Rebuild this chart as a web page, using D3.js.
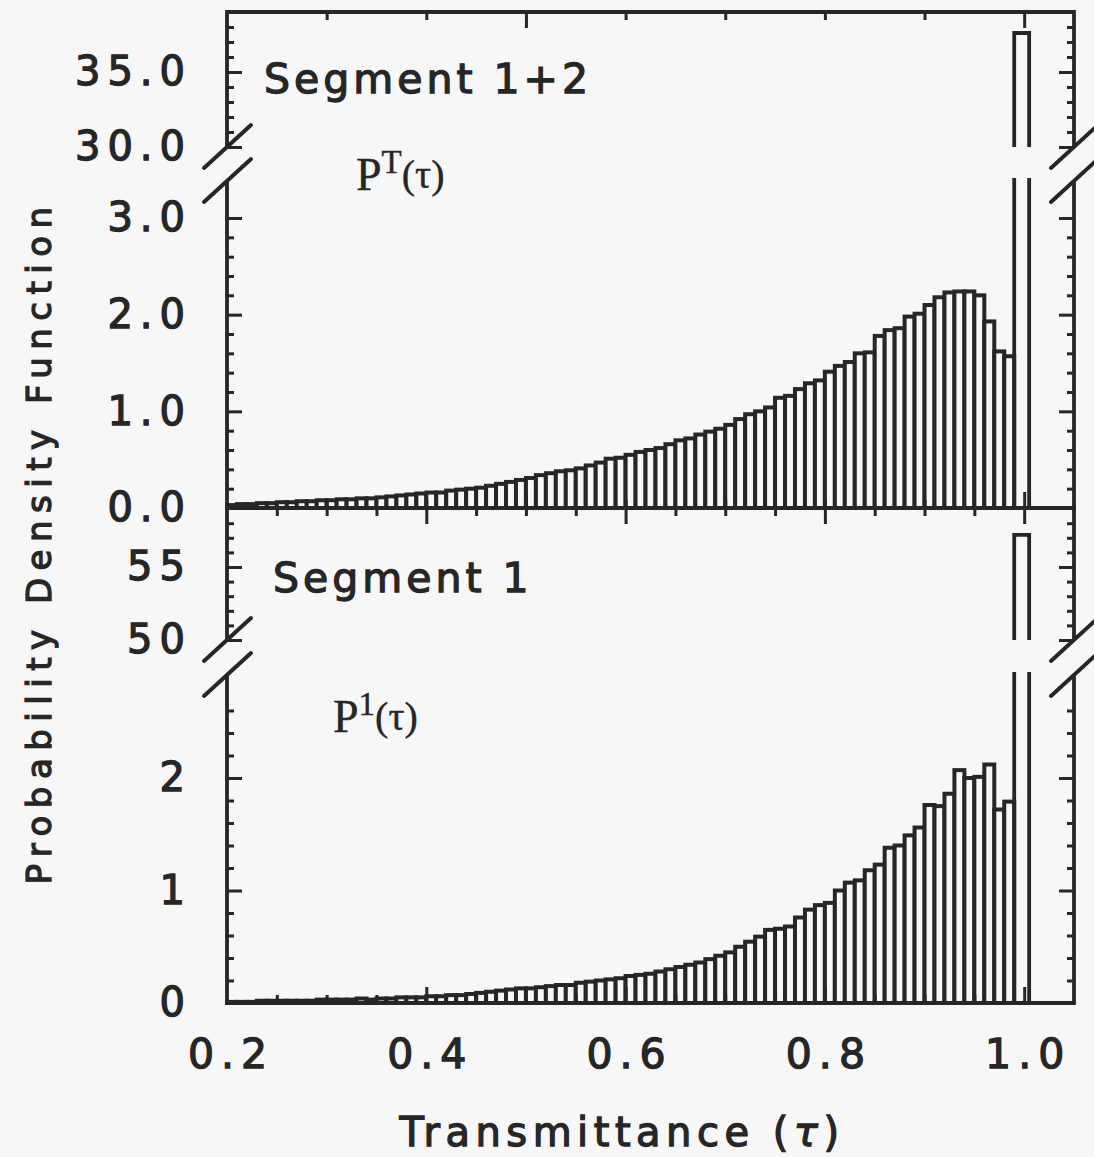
<!DOCTYPE html>
<html>
<head>
<meta charset="utf-8">
<script src="https://cdn.jsdelivr.net/npm/d3@7"></script>
<style>
body { margin: 0; background: #f7f7f7; }
svg text { font-family: "DejaVu Sans", sans-serif; font-weight: normal; fill: #262626; stroke: #262626; stroke-width: 1.3px; }
svg text.serif, svg tspan.serif { font-family: "Liberation Serif", "DejaVu Serif", serif; stroke-width: 0.4px; }
</style>
</head>
<body>
<svg width="1094" height="1157"></svg>
<script>
// bin lower edges (tau), width 0.01
var binStart = [0.20, 0.21, 0.22, 0.23, 0.24, 0.25, 0.26, 0.27, 0.28, 0.29,
                0.30, 0.31, 0.32, 0.33, 0.34, 0.35, 0.36, 0.37, 0.38, 0.39,
                0.40, 0.41, 0.42, 0.43, 0.44, 0.45, 0.46, 0.47, 0.48, 0.49,
                0.50, 0.51, 0.52, 0.53, 0.54, 0.55, 0.56, 0.57, 0.58, 0.59,
                0.60, 0.61, 0.62, 0.63, 0.64, 0.65, 0.66, 0.67, 0.68, 0.69,
                0.70, 0.71, 0.72, 0.73, 0.74, 0.75, 0.76, 0.77, 0.78, 0.79,
                0.80, 0.81, 0.82, 0.83, 0.84, 0.85, 0.86, 0.87, 0.88, 0.89,
                0.90, 0.91, 0.92, 0.93, 0.94, 0.95, 0.96, 0.97, 0.98];
var binWidth = 0.01;

// Segment 1+2, PT(tau)
var pdfTotal = [0.03, 0.04, 0.04, 0.05, 0.05, 0.06, 0.06, 0.07, 0.07, 0.08,
                0.08, 0.09, 0.09, 0.10, 0.10, 0.11, 0.12, 0.13, 0.14, 0.15,
                0.16, 0.16, 0.18, 0.19, 0.20, 0.21, 0.23, 0.25, 0.27, 0.29,
                0.31, 0.34, 0.36, 0.38, 0.39, 0.41, 0.44, 0.47, 0.51, 0.52,
                0.55, 0.58, 0.60, 0.62, 0.66, 0.70, 0.72, 0.76, 0.79, 0.82,
                0.86, 0.92, 0.97, 1.00, 1.04, 1.14, 1.16, 1.23, 1.29, 1.32,
                1.41, 1.47, 1.51, 1.60, 1.61, 1.78, 1.84, 1.86, 1.98, 2.01,
                2.10, 2.18, 2.23, 2.24, 2.24, 2.20, 1.93, 1.62, 1.57];

// Segment 1, P1(tau)
var pdfSeg1 = [0.01, 0.01, 0.01, 0.02, 0.02, 0.02, 0.02, 0.02, 0.02, 0.03,
               0.03, 0.03, 0.03, 0.04, 0.03, 0.04, 0.04, 0.05, 0.05, 0.05,
               0.06, 0.06, 0.07, 0.07, 0.08, 0.09, 0.10, 0.11, 0.12, 0.13,
               0.13, 0.14, 0.15, 0.16, 0.16, 0.18, 0.19, 0.20, 0.21, 0.22,
               0.24, 0.25, 0.26, 0.28, 0.30, 0.32, 0.34, 0.36, 0.39, 0.42,
               0.45, 0.50, 0.545, 0.59, 0.65, 0.66, 0.68, 0.76, 0.83, 0.87,
               0.89, 1.00, 1.07, 1.09, 1.18, 1.23, 1.38, 1.40, 1.49, 1.56,
               1.76, 1.75, 1.86, 2.07, 2.00, 2.01, 2.12, 1.72, 1.79];

// the tall bin at tau = 1
var spikeBin = [0.99, 1.005];
var spikeTotal = 37.6;
var spikeSeg1 = 57.2;

// ticks
var xLabels = [0.2, 0.4, 0.6, 0.8, 1.0];
var topXMajor = [0.5, 1.0];
var topXMinor = [0.3, 0.4, 0.6, 0.7, 0.8, 0.9];
var botXMajor = [0.4, 0.6, 0.8, 1.0];
var botXMinor = [0.25, 0.3, 0.35, 0.45, 0.5, 0.55, 0.65, 0.7, 0.75, 0.85, 0.9, 0.95];

var topYMajor = [0, 1, 2, 3];
var topYMinor = [0.2, 0.4, 0.6, 0.8, 1.2, 1.4, 1.6, 1.8, 2.2, 2.4, 2.6, 2.8];
var topBreakMajor = [30, 35];
var topBreakMinor = [31, 32, 33, 34, 36, 37, 38];
var botYMajor = [0, 1, 2];
var botYMinor = [0.2, 0.4, 0.6, 0.8, 1.2, 1.4, 1.6, 1.8, 2.2, 2.4, 2.6];
var botBreakMajor = [50, 55];
var botBreakMinor = [51, 52, 53, 54, 56, 57, 58];

var INK = '#262626', PAPER = '#f7f7f7';
var left = 227, right = 1074;

var svg = d3.select('svg');

var x = d3.scaleLinear().domain([0.2, 1.05]).range([left, right]);

// panel definitions (scale ranges in px)
var panels = [
  { top: 12, base: 508,
    y: d3.scaleLinear().domain([0, 3]).range([508, 218]),
    yb: d3.scaleLinear().domain([30, 35]).range([147, 72]),
    cutHi: 147, cutLo: 181, spikeGapLo: 178,
    values: pdfTotal, spike: spikeTotal,
    major: topYMajor, minor: topYMinor, bMajor: topBreakMajor, bMinor: topBreakMinor,
    fmt: d3.format('.1f'), xMajor: topXMajor, xMinor: topXMinor },
  { top: 508, base: 1003,
    y: d3.scaleLinear().domain([0, 2]).range([1003, 778]),
    yb: d3.scaleLinear().domain([50, 55]).range([640, 567]),
    cutHi: 640, cutLo: 675, spikeGapLo: 672,
    values: pdfSeg1, spike: spikeSeg1,
    major: botYMajor, minor: botYMinor, bMajor: botBreakMajor, bMinor: botBreakMinor,
    fmt: d3.format('d'), xMajor: botXMajor, xMinor: botXMinor }
];

function cleanAxis(g) {
  g.select('.domain').remove();
  g.selectAll('line').attr('stroke', INK).attr('stroke-width', 3);
  g.selectAll('text').style('font-size', '40px').style('letter-spacing', '7px');
}

panels.forEach(function(p) {
  var g = svg.append('g');

  // bars
  g.selectAll('rect.bar')
    .data(p.values)
    .enter()
    .append('rect')
    .attr('class', 'bar')
    .attr('x', function(d, i) { return x(binStart[i]); })
    .attr('width', function(d, i) { return x(binStart[i] + binWidth) - x(binStart[i]); })
    .attr('y', function(d) { return p.y(d); })
    .attr('height', function(d) { return p.y(0) - p.y(d); })
    .attr('fill', PAPER)
    .attr('stroke', INK)
    .attr('stroke-width', 4);

  // spike, broken at the axis break
  var sx0 = x(spikeBin[0]), sx1 = x(spikeBin[1]);
  g.append('path')
    .attr('d', 'M' + sx0 + ',' + p.base + 'V' + p.spikeGapLo + 'M' + sx1 + ',' + p.spikeGapLo + 'V' + p.base)
    .attr('fill', 'none').attr('stroke', INK).attr('stroke-width', 3.8);
  g.append('path')
    .attr('d', 'M' + sx0 + ',' + p.cutHi + 'V' + p.yb(p.spike) + 'H' + sx1 + 'V' + p.cutHi)
    .attr('fill', PAPER).attr('stroke', INK).attr('stroke-width', 3.8);

  // x ticks, inside, on both horizontal edges
  [[d3.axisTop, p.top], [d3.axisBottom, p.base]].forEach(function(a) {
    g.append('g').attr('transform', 'translate(0,' + a[1] + ')')
      .call(a[0](x).tickValues(p.xMinor).tickSize(-8).tickFormat(''))
      .call(cleanAxis);
    g.append('g').attr('transform', 'translate(0,' + a[1] + ')')
      .call(a[0](x).tickValues(p.xMajor).tickSize(-16).tickFormat(''))
      .call(cleanAxis);
  });

  // y ticks, left (labelled) and right
  [[p.y, p.major, p.minor, p.fmt], [p.yb, p.bMajor, p.bMinor, p.fmt]].forEach(function(s) {
    g.append('g').attr('transform', 'translate(' + left + ',0)')
      .call(d3.axisLeft(s[0]).tickValues(s[1]).tickSize(-15).tickPadding(35).tickFormat(s[3]))
      .call(cleanAxis);
    g.append('g').attr('transform', 'translate(' + left + ',0)')
      .call(d3.axisLeft(s[0]).tickValues(s[2]).tickSize(-7).tickFormat(''))
      .call(cleanAxis);
    g.append('g').attr('transform', 'translate(' + right + ',0)')
      .call(d3.axisRight(s[0]).tickValues(s[1]).tickSize(-15).tickFormat(''))
      .call(cleanAxis);
    g.append('g').attr('transform', 'translate(' + right + ',0)')
      .call(d3.axisRight(s[0]).tickValues(s[2]).tickSize(-7).tickFormat(''))
      .call(cleanAxis);
  });

  // frame with breaks
  var frame = 'M' + left + ',' + p.cutHi + 'V' + p.top + 'H' + right + 'V' + p.cutHi +
              'M' + left + ',' + p.cutLo + 'V' + p.base + 'H' + right + 'V' + p.cutLo;
  g.append('path').attr('d', frame).attr('fill', 'none')
    .attr('stroke', INK).attr('stroke-width', 3.8);

  // break marks
  [left, right].forEach(function(ax) {
    [p.cutHi, p.cutLo].forEach(function(cy) {
      g.append('line')
        .attr('x1', ax - 23).attr('y1', cy + 21)
        .attr('x2', ax + 24).attr('y2', cy - 22)
        .attr('stroke', INK).attr('stroke-width', 4).attr('stroke-linecap', 'round');
    });
  });
});

// x tick labels
svg.append('g').attr('transform', 'translate(0,1003)')
  .call(d3.axisBottom(x).tickValues(xLabels).tickSize(0).tickPadding(36).tickFormat(d3.format('.1f')))
  .call(function(g) {
    g.select('.domain').remove();
    g.selectAll('text').style('font-size', '41px').style('letter-spacing', '7px').attr('dx', '3.5');
  });

// axis titles
var xt = svg.append('text')
  .attr('x', 622).attr('y', 1146)
  .attr('text-anchor', 'middle')
  .style('font-size', '40px').style('letter-spacing', '5.5px');
xt.append('tspan').text('Transmittance (');
xt.append('tspan').style('font-style', 'italic').text('τ');
xt.append('tspan').text(')');

svg.append('text')
  .attr('transform', 'translate(51,542) rotate(-90)')
  .attr('text-anchor', 'middle')
  .style('font-size', '34px').style('letter-spacing', '7.5px')
  .text('Probability Density Function');

// panel titles
svg.append('text').attr('x', 264).attr('y', 93)
  .style('font-size', '41px').style('letter-spacing', '4px')
  .text('Segment 1+2');
svg.append('text').attr('x', 273).attr('y', 592)
  .style('font-size', '41px').style('letter-spacing', '4px')
  .text('Segment 1');

// function labels
function fnLabel(x0, y0, sup) {
  var t = svg.append('text').attr('class', 'serif').attr('y', y0);
  t.append('tspan').attr('class', 'serif').attr('x', x0).style('font-size', '46px').text('P');
  t.append('tspan').attr('class', 'serif').attr('dy', -17).style('font-size', '33px').text(sup);
  t.append('tspan').attr('class', 'serif').attr('dy', 15).style('font-size', '40px').text('(τ)');
}
fnLabel(356, 190, 'T');
fnLabel(333, 732, '1');
</script>
</body>
</html>
